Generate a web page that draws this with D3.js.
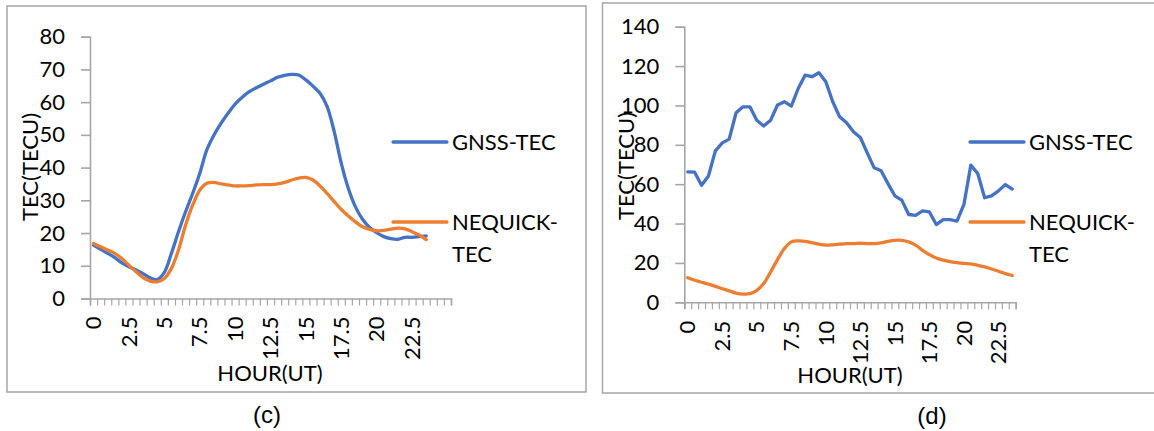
<!DOCTYPE html>
<html>
<head>
<meta charset="utf-8">
<script src="https://cdn.jsdelivr.net/npm/d3@7/dist/d3.min.js"></script>
<style>
  body { margin: 0; background: #fff; }
  svg { display: block; }
</style>
</head>
<body>
<svg id="chart" width="1154" height="431"></svg>
<script>
// hour categories (UT), half-hour steps
const hours = ["0", "0.5", "1", "1.5", "2", "2.5", "3", "3.5", "4", "4.5", "5", "5.5",
  "6", "6.5", "7", "7.5", "8", "8.5", "9", "9.5", "10", "10.5", "11", "11.5",
  "12", "12.5", "13", "13.5", "14", "14.5", "15", "15.5", "16", "16.5", "17", "17.5",
  "18", "18.5", "19", "19.5", "20", "20.5", "21", "21.5", "22", "22.5", "23", "23.5"];

// panel (c) has three empty rows at the end of its category range
const categoriesC = hours.concat(["", "", ""]);
const categoriesD = hours;

// panel (c) values (TECU)
const gnssC = [16.3, 15.0, 13.8, 12.5, 10.9, 9.7, 8.7, 7.6, 6.3, 5.8, 8.0, 13.8,
  20.4, 26.5, 32.1, 38.2, 45.4, 49.9, 53.5, 56.6, 59.4, 61.5, 63.2, 64.4,
  65.5, 66.5, 67.6, 68.2, 68.5, 68.3, 66.8, 64.9, 62.7, 58.6, 51.0, 41.3,
  33.6, 28.0, 24.2, 21.7, 20.1, 18.9, 18.3, 18.1, 18.7, 18.7, 18.9, 19.1];
const nequickC = [16.8, 15.8, 14.8, 13.8, 12.2, 10.2, 8.2, 6.4, 5.3, 5.1, 6.1, 9.2,
  14.8, 22.4, 28.5, 33.1, 35.2, 35.5, 35.0, 34.7, 34.4, 34.4, 34.5, 34.7,
  34.8, 34.8, 35.0, 35.5, 36.2, 36.8, 37.0, 36.2, 34.4, 32.1, 29.6, 27.2,
  25.2, 23.4, 21.9, 21.1, 20.7, 20.8, 21.2, 21.5, 21.3, 20.4, 19.4, 18.0];

// panel (d) values (TECU)
const gnssD = [66.3, 66.1, 59.5, 64.2, 76.9, 81.0, 82.9, 96.3, 99.3, 99.3, 92.5, 89.5,
  92.5, 100.2, 101.9, 99.7, 108.6, 115.4, 114.6, 116.6, 112.0, 101.9, 94.2, 91.2,
  86.6, 83.7, 75.9, 68.3, 66.8, 60.3, 54.1, 51.9, 44.6, 44.2, 46.4, 45.9,
  39.5, 42.0, 42.0, 41.2, 49.7, 69.7, 65.4, 53.1, 54.1, 56.6, 59.8, 57.5];
const nequickD = [12.5, 11.2, 10.2, 9.2, 8.1, 6.9, 5.8, 4.7, 4.2, 4.4, 6.1, 9.5,
  15.4, 21.7, 27.3, 30.7, 31.2, 31.0, 30.3, 29.5, 29.0, 29.2, 29.5, 29.8,
  29.8, 30.0, 29.8, 29.8, 30.2, 31.0, 31.5, 31.5, 30.7, 29.0, 26.4, 24.2,
  22.5, 21.4, 20.7, 20.2, 19.8, 19.5, 18.8, 18.0, 16.9, 15.8, 14.6, 13.6];

const yTicksC = [0, 10, 20, 30, 40, 50, 60, 70, 80];
const yTicksD = [0, 20, 40, 60, 80, 100, 120, 140];
const seriesNames = ["GNSS-TEC", "NEQUICK-TEC"];
const xTitle = "HOUR(UT)";
const yTitle = "TEC(TECU)";

const BLUE = "#4472C4";
const ORANGE = "#ED7D31";
const AXIS = "#a6a6a6";
const FONT = "Lato, 'Noto Sans', sans-serif";

const svg = d3.select("#chart");

const drawPanel = (p) => {
  // outer frame
  svg.append("rect")
    .attr("x", p.frame[0]).attr("y", p.frame[1])
    .attr("width", p.frame[2]).attr("height", p.frame[3])
    .attr("fill", "none")
    .attr("stroke", AXIS)
    .attr("stroke-width", 1.5);

  const n = p.categories.length;
  const x = d3.scaleBand()
    .domain(d3.range(n))
    .range([p.x0, p.x1])
    .padding(0);
  const xEdge = d3.scaleLinear().domain([0, n]).range([p.x0, p.x1]);
  const y = d3.scaleLinear().domain([0, p.yMax]).range([p.yBottom, p.yTop]);

  // y axis
  const gy = svg.append("g")
    .attr("transform", `translate(${p.x0},0)`)
    .call(d3.axisLeft(y).tickValues(p.yTicks).tickSize(9).tickPadding(16));
  gy.select(".domain").attr("stroke", AXIS).attr("stroke-width", 1.6);
  gy.selectAll(".tick line").attr("stroke", AXIS).attr("stroke-width", 1.6);
  gy.selectAll("text")
    .attr("fill", "#000")
    .style("font-family", FONT)
    .style("font-size", "22px");

  // x axis: tick marks between categories
  const gx = svg.append("g")
    .attr("transform", `translate(0,${p.yBottom})`)
    .call(d3.axisBottom(xEdge).tickValues(d3.range(n + 1)).tickSize(7).tickFormat(""));
  gx.select(".domain").attr("stroke", AXIS).attr("stroke-width", 1.6);
  gx.selectAll(".tick line").attr("stroke", AXIS).attr("stroke-width", 1.2);

  // x labels, every fifth category, rotated
  const labelled = d3.range(n).filter(i => i % 5 === 0 && p.categories[i] !== "");
  const gl = svg.append("g")
    .attr("transform", `translate(0,${p.yBottom})`)
    .call(d3.axisBottom(x).tickValues(labelled).tickSize(0)
      .tickFormat(i => p.categories[i]));
  gl.select(".domain").remove();
  gl.selectAll("text")
    .attr("transform", "rotate(-90)")
    .attr("x", -p.labelGap)
    .attr("y", 0)
    .attr("dy", "0.35em")
    .attr("text-anchor", "end")
    .attr("fill", "#000")
    .style("font-family", FONT)
    .style("font-size", "22px");

  // lines
  p.series.forEach(s => {
    const line = d3.line()
      .x((d, i) => x(i) + x.bandwidth() / 2)
      .y(d => y(d))
      .curve(s.curve);
    svg.append("path")
      .datum(s.values)
      .attr("fill", "none")
      .attr("stroke", s.color)
      .attr("stroke-width", 3.3)
      .attr("stroke-linejoin", "round")
      .attr("stroke-linecap", "round")
      .attr("d", line);
  });

  // axis titles
  svg.append("text")
    .attr("transform", `translate(${p.yTitlePos[0]},${p.yTitlePos[1]}) rotate(-90)`)
    .attr("text-anchor", "middle")
    .attr("dy", "0.35em")
    .style("font-family", FONT)
    .style("font-size", "22px")
    .text(yTitle);

  svg.append("text")
    .attr("x", p.xTitlePos[0])
    .attr("y", p.xTitlePos[1])
    .attr("text-anchor", "middle")
    .style("font-family", FONT)
    .style("font-size", "22px")
    .text(xTitle);

  // legend
  const lg = svg.append("g").attr("transform", `translate(${p.legend[0]},0)`);
  p.series.forEach((s, k) => {
    const ly = p.legend[1 + k];
    lg.append("line")
      .attr("x1", 0).attr("x2", 54)
      .attr("y1", ly).attr("y2", ly)
      .attr("stroke", s.color)
      .attr("stroke-width", 3.3)
      .attr("stroke-linecap", "round");
    // NEQUICK-TEC wraps after the hyphen
    const parts = s.name.includes("NEQUICK") ? ["NEQUICK-", "TEC"] : [s.name];
    parts.forEach((t, j) => {
      lg.append("text")
        .attr("x", 59)
        .attr("y", ly + j * 32)
        .attr("dy", "0.35em")
        .style("font-family", FONT)
        .style("font-size", "22px")
        .text(t);
    });
  });

  // panel caption
  svg.append("text")
    .attr("x", p.caption[0])
    .attr("y", p.caption[1])
    .attr("text-anchor", "middle")
    .style("font-family", "'Liberation Sans', Arial, sans-serif")
    .style("font-size", "24px")
    .text(p.captionText);
};

drawPanel({
  frame: [7, 6, 579, 386],
  categories: categoriesC,
  x0: 90, x1: 451,
  yTop: 36.7, yBottom: 298.5, yMax: 80,
  yTicks: yTicksC,
  labelGap: 18,
  series: [
    { name: seriesNames[0], values: gnssC, color: BLUE, curve: d3.curveCatmullRom },
    { name: seriesNames[1], values: nequickC, color: ORANGE, curve: d3.curveCatmullRom }
  ],
  yTitlePos: [30, 167],
  xTitlePos: [270, 381],
  legend: [393, 142, 222],
  caption: [267, 423],
  captionText: "(c)"
});

drawPanel({
  frame: [602.5, 3, 600, 390],
  categories: categoriesD,
  x0: 684.3, x1: 1015.7,
  yTop: 26.7, yBottom: 302.3, yMax: 140,
  yTicks: yTicksD,
  labelGap: 18.5,
  series: [
    { name: seriesNames[0], values: gnssD, color: BLUE, curve: d3.curveLinear },
    { name: seriesNames[1], values: nequickD, color: ORANGE, curve: d3.curveCatmullRom }
  ],
  yTitlePos: [626, 166],
  xTitlePos: [850, 383],
  legend: [970, 142, 222],
  caption: [932, 424],
  captionText: "(d)"
});
</script>
</body>
</html>
